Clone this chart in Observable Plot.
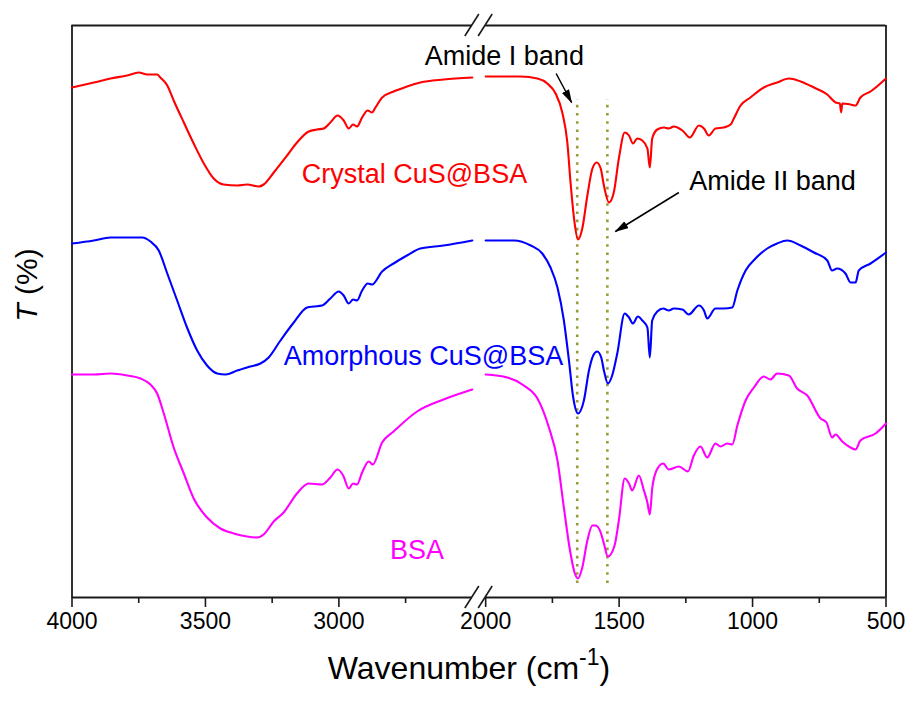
<!DOCTYPE html>
<html>
<head>
<meta charset="utf-8">
<script src="https://cdn.jsdelivr.net/npm/d3@7"></script>
<script src="https://cdn.jsdelivr.net/npm/@observablehq/plot@0.6"></script>
<style>
  html, body { margin: 0; padding: 0; background: #fff; }
</style>
</head>
<body>
<div id="chart"></div>
<script>
// ---- Data: [wavenumber (cm-1), relative transmittance (a.u.)] ----
const crystalLeft = [[4000,510],[3918,515],[3856,519],[3793,522],[3750,525],[3718,523],[3681,523],[3669,520],[3643,512],[3619,497],[3581,475],[3544,454],[3506,434],[3469,419],[3432,413],[3381,412],[3344,413],[3300,411],[3282,413],[3244,425],[3194,442],[3157,455],[3113,466],[3082,468],[3057,469],[3032,475],[3005,482],[2982,477],[2963,469],[2947,473],[2932,471],[2913,480],[2892,487],[2876,485],[2863,490],[2838,500],[2795,506],[2745,511],[2695,515],[2608,518],[2500,520]];
const crystalRight = [[2000,521],[1869,521],[1806,519],[1769,514],[1738,504],[1713,485],[1694,455],[1682,415],[1667,375],[1654,358],[1638,369],[1619,402],[1600,429],[1584,435],[1569,429],[1557,412],[1538,395],[1520,405],[1501,439],[1479,465],[1463,462],[1448,454],[1432,459],[1413,457],[1394,449],[1385,430],[1376,459],[1357,468],[1332,470],[1314,469],[1295,471],[1263,467],[1235,460],[1201,472],[1182,469],[1164,462],[1139,469],[1108,470],[1082,473],[1070,479],[1045,492],[1008,500],[958,510],[908,515],[864,519],[820,516],[770,510],[720,503],[689,495],[673,494],[668,485],[664,494],[633,493],[614,492],[596,500],[558,506],[500,519]];

const amorphousLeft = [[4000,354],[3918,357],[3856,360],[3793,360],[3737,360],[3706,356],[3675,347],[3643,324],[3606,297],[3569,270],[3531,247],[3494,232],[3456,224],[3425,223],[3381,227],[3332,231],[3294,234],[3263,240],[3219,257],[3169,275],[3119,290],[3094,291],[3063,292],[3032,299],[3001,306],[2982,302],[2963,294],[2947,298],[2932,297],[2913,307],[2892,314],[2876,313],[2838,326],[2795,334],[2745,342],[2695,349],[2608,352],[2500,357]];
const amorphousRight = [[2000,357],[1894,357],[1831,352],[1788,344],[1757,330],[1731,310],[1707,277],[1688,237],[1672,200],[1654,184],[1632,197],[1613,227],[1597,242],[1582,246],[1567,240],[1557,227],[1542,214],[1526,222],[1507,244],[1479,284],[1463,280],[1448,274],[1430,281],[1413,277],[1394,270],[1385,240],[1376,277],[1357,286],[1335,289],[1314,287],[1295,289],[1263,288],[1239,283],[1201,292],[1182,287],[1170,279],[1139,289],[1108,289],[1076,290],[1057,307],[1026,327],[989,339],[945,349],[908,354],[870,357],[820,352],[770,345],[720,337],[702,327],[683,329],[652,324],[633,315],[614,315],[602,327],[558,334],[500,345]];

const bsaLeft = [[4000,223],[3918,223],[3856,224],[3793,222],[3743,219],[3706,213],[3681,204],[3656,184],[3619,150],[3581,124],[3544,99],[3494,80],[3444,69],[3394,64],[3344,61],[3306,60],[3282,63],[3244,76],[3207,85],[3157,104],[3113,114],[3063,113],[3032,120],[3005,128],[2984,122],[2963,109],[2947,114],[2932,113],[2913,125],[2888,136],[2873,133],[2838,155],[2795,166],[2707,186],[2608,198],[2500,208]];
const bsaRight = [[2000,223],[1919,220],[1857,212],[1806,199],[1763,170],[1731,137],[1707,90],[1684,47],[1667,25],[1654,19],[1638,30],[1619,57],[1600,72],[1588,72],[1569,65],[1557,54],[1542,41],[1517,52],[1501,77],[1479,119],[1463,114],[1451,107],[1426,122],[1407,107],[1394,95],[1385,83],[1376,109],[1360,127],[1335,134],[1314,128],[1276,131],[1242,126],[1220,142],[1195,151],[1170,140],[1139,154],[1120,151],[1095,154],[1076,153],[1057,172],[1026,197],[995,210],[958,221],[933,218],[908,224],[864,222],[833,209],[795,202],[745,179],[723,175],[702,160],[689,163],[664,156],[633,150],[614,148],[596,157],[539,164],[500,174]];

const seriesNames = ["Crystal CuS@BSA", "Amorphous CuS@BSA", "BSA"];
const seriesColors = ["#ff0000", "#0000ff", "#ff00ff"];
const seriesSegments = [[crystalLeft, crystalRight], [amorphousLeft, amorphousRight], [bsaLeft, bsaRight]];
// label anchor (wavenumber, T) for each series name
const seriesLabelPos = [[2717, 423], [2683, 241], [2707, 47]];

const majorTicks = [4000, 3500, 3000, 2000, 1500, 1000, 500];
const minorTicks = [3750, 3250, 2750, 1750, 1250, 750];
const amideBands = [1657, 1544];
const bandLabels = [{text: "Amide I band", w: 1930, t: 541}, {text: "Amide II band", w: 925, t: 416}];
const bandArrows = [{w1: 1736, t1: 524, w2: 1678, t2: 495}, {w1: 1276, t1: 405, w2: 1514, t2: 366}];

// ---- Broken wavenumber axis: 4000–2500 | gap | 2000–500 ----
const W_MAX = 4000, BREAK_HI = 2500, BREAK_LO = 2000, W_MIN = 500, GAP = 50;
const toU = w => w >= BREAK_HI ? W_MAX - w : (W_MAX - BREAK_HI) + GAP + (BREAK_LO - w);
const fromU = u => u <= (W_MAX - BREAK_HI) ? W_MAX - u : BREAK_LO - (u - (W_MAX - BREAK_HI) - GAP);
const U_END = toU(W_MIN);
const T_MAX = 572;

const rows = [];
seriesSegments.forEach((segs, i) => segs.forEach((seg, j) => seg.forEach(([w, t]) =>
  rows.push({series: seriesNames[i], seg: j, key: i + "-" + j, w, t}))));

const frameColor = "#1a1a1a";
const marks = [
  Plot.ruleY([0, T_MAX], {y: d => d, x1: toU(W_MAX), x2: toU(BREAK_HI), stroke: frameColor, strokeWidth: 1.8}),
  Plot.ruleY([0, T_MAX], {y: d => d, x1: toU(BREAK_LO), x2: toU(W_MIN), stroke: frameColor, strokeWidth: 1.8}),
  Plot.ruleX([W_MAX, W_MIN], {x: d => toU(d), y1: 0, y2: T_MAX, stroke: frameColor, strokeWidth: 1.8}),
  Plot.ruleX(majorTicks, {x: d => toU(d), y1: 0, y2: -10, stroke: frameColor, strokeWidth: 1.6}),
  Plot.ruleX(minorTicks, {x: d => toU(d), y1: 0, y2: -6, stroke: frameColor, strokeWidth: 1.6}),
  Plot.ruleX(amideBands, {x: d => toU(d), y1: 14, y2: 498, stroke: "#9a9a3a", strokeWidth: 2.6, strokeDasharray: "2.6,5.6"})
];
seriesNames.forEach((name, i) => {
  marks.push(Plot.line(rows.filter(r => r.series === name), {
    x: d => toU(d.w), y: "t", z: "key", stroke: seriesColors[i], strokeWidth: 2.1, curve: "monotone-x"
  }));
  marks.push(Plot.text([name], {
    x: () => toU(seriesLabelPos[i][0]), y: () => seriesLabelPos[i][1],
    text: d => d, fill: seriesColors[i], fontSize: 27, textAnchor: "middle"
  }));
});
marks.push(Plot.text(bandLabels, {x: d => toU(d.w), y: "t", text: "text", fill: "#000", fontSize: 27, textAnchor: "middle"}));
marks.push(Plot.link(bandArrows, {x1: d => toU(d.w1), y1: "t1", x2: d => toU(d.w2), y2: "t2", stroke: "#000", strokeWidth: 1.5}));

const chart = Plot.plot({
  width: 911,
  height: 711,
  marginLeft: 71.5,
  marginRight: 25.5,
  marginTop: 25,
  marginBottom: 114,
  style: {fontFamily: "'Liberation Sans', Arial, sans-serif", fontSize: "23px", color: "#000", background: "#fff"},
  x: {domain: [0, U_END], ticks: majorTicks.map(toU), tickFormat: u => String(Math.round(fromU(u))), tickSize: 0, tickPadding: 15, label: null},
  y: {domain: [0, T_MAX], axis: null},
  marks
});
document.getElementById("chart").appendChild(chart);

// ---- Decorations: arrowheads, axis-break marks, axis titles ----
const svg = d3.select(chart);
const xs = chart.scale("x").apply, ys = chart.scale("y").apply;
const defs = svg.append("defs");
defs.append("marker").attr("id", "ahead").attr("viewBox", "0 0 14 8").attr("refX", 13).attr("refY", 4)
  .attr("markerWidth", 14).attr("markerHeight", 8).attr("markerUnits", "userSpaceOnUse").attr("orient", "auto")
  .append("path").attr("d", "M0,0L14,4L0,8Z").attr("fill", "#000");
svg.selectAll('g[aria-label="link"] path').attr("marker-end", "url(#ahead)");

const breakG = svg.append("g").attr("stroke", frameColor).attr("stroke-width", 1.6);
[BREAK_HI, BREAK_LO].forEach(w => [0, T_MAX].forEach(t => {
  const px = xs(toU(w)), py = ys(t);
  breakG.append("line").attr("x1", px - 7).attr("y1", py + 11).attr("x2", px + 7).attr("y2", py - 11);
}));

const xTitle = svg.append("text").attr("x", 469).attr("y", 679).attr("text-anchor", "middle")
  .attr("font-size", 32).attr("fill", "#000");
xTitle.append("tspan").text("Wavenumber (cm");
xTitle.append("tspan").attr("dy", -14).attr("font-size", 23).text("-1");
xTitle.append("tspan").attr("dy", 14).text(")");

const yTitle = svg.append("text").attr("transform", "translate(37,285) rotate(-90)")
  .attr("text-anchor", "middle").attr("font-size", 30).attr("fill", "#000");
yTitle.append("tspan").attr("font-style", "italic").text("T");
yTitle.append("tspan").text(" (%)");
</script>
</body>
</html>
